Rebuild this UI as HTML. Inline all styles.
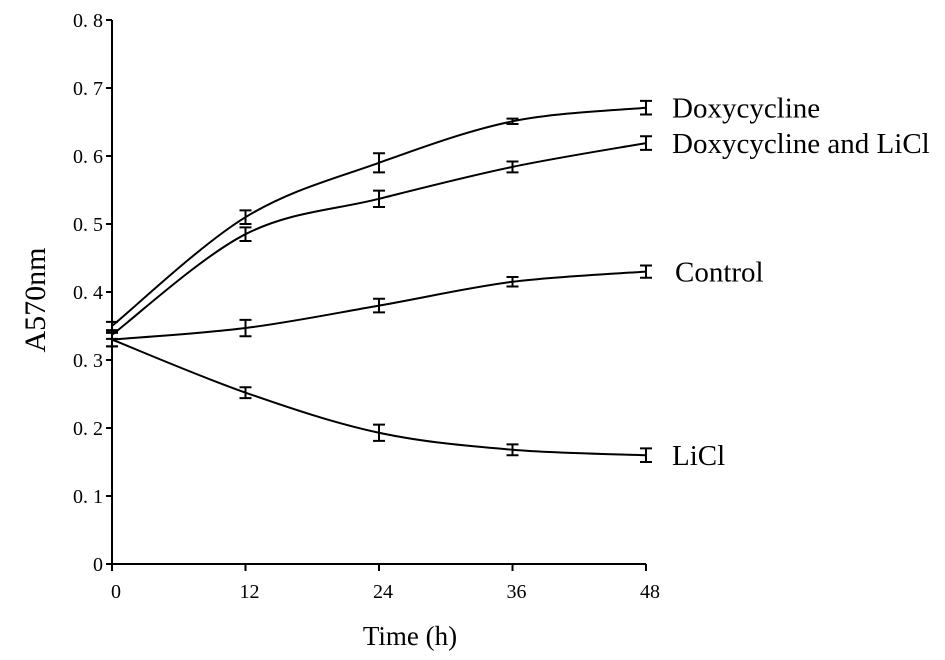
<!DOCTYPE html>
<html><head><meta charset="utf-8"><style>
body{margin:0;background:#fff}
svg{display:block;font-family:"Liberation Serif",serif}
</style></head><body>
<svg id="chart" width="945" height="660" viewBox="0 0 945 660">
<g id="axes"></g>
<g id="series"></g>
<text transform="translate(45,300) rotate(-90)" text-anchor="middle" font-size="30">A570nm</text>
<text x="410" y="645" text-anchor="middle" font-size="27">Time (h)</text>
</svg>
<script>
const times=[0,12,24,36,48];
const yTicks=[0,0.1,0.2,0.3,0.4,0.5,0.6,0.7,0.8];
const seriesNames=["Doxycycline","Doxycycline and LiCl","Control","LiCl"];
const doxy=[0.35,0.51,0.59,0.651,0.671];
const doxyErr=[0.006,0.01,0.014,0.004,0.01];
const doxyLi=[0.337,0.485,0.537,0.584,0.619];
const doxyLiErr=[0.006,0.01,0.012,0.008,0.01];
const control=[0.33,0.347,0.38,0.415,0.43];
const controlErr=[0.01,0.012,0.01,0.007,0.009];
const licl=[0.33,0.252,0.193,0.168,0.16];
const liclErr=[0.01,0.008,0.012,0.008,0.01];
const labelDy=[0,0,0,0];
const NS="http://www.w3.org/2000/svg";
const X0=112,X1=646,Y0=564,Y1=20;
const sx=t=>X0+(t-0)/(48-0)*(X1-X0);
const sy=v=>Y0-(v/0.8)*(Y0-Y1);
function mk(tag,attrs,parent){const e=document.createElementNS(NS,tag);for(const k in attrs)e.setAttribute(k,attrs[k]);parent.appendChild(e);return e;}
const ax=document.getElementById('axes');
let l=mk('line',{x1:X0,y1:Y1,x2:X0,y2:Y0,stroke:'#000','stroke-width':2},ax);


l=mk('line',{x1:X0,y1:Y0,x2:X1,y2:Y0,stroke:'#000','stroke-width':2},ax);


yTicks.forEach(v=>{
 mk('line',{x1:X0-6,y1:sy(v),x2:X0,y2:sy(v),stroke:'#000','stroke-width':2},ax);
 const t=mk('text',{x:X0-9,y:sy(v)+7,'text-anchor':'end','font-size':20},ax);
 t.textContent=v===0?'0':v.toFixed(1).replace('.','. ');
 
 
});
times.forEach(v=>{
 mk('line',{x1:sx(v),y1:Y0,x2:sx(v),y2:Y0+7,stroke:'#000','stroke-width':2},ax);
 const t=mk('text',{x:sx(v)+4,y:Y0+34,'text-anchor':'middle','font-size':20},ax);
 t.textContent=v;
 
 
});
const sg=document.getElementById('series');
const all=[[doxy,doxyErr],[doxyLi,doxyLiErr],[control,controlErr],[licl,liclErr]];
all.forEach((s,i)=>{
 const pts=times.map((t,j)=>[sx(t),sy(s[0][j])]);
 let d=`M${pts[0][0]},${pts[0][1]}`;
 for(let j=0;j<pts.length-1;j++){
  const p0=pts[Math.max(0,j-1)],p1=pts[j],p2=pts[j+1],p3=pts[Math.min(pts.length-1,j+2)];
  const c1=[p1[0]+(p2[0]-p0[0])/6,p1[1]+(p2[1]-p0[1])/6];
  const c2=[p2[0]-(p3[0]-p1[0])/6,p2[1]-(p3[1]-p1[1])/6];
  d+=` C${c1[0]},${c1[1]} ${c2[0]},${c2[1]} ${p2[0]},${p2[1]}`;
 }
 const p=mk('path',{d:d,fill:'none',stroke:'#000','stroke-width':2},sg);
 
 
 times.forEach((t,j)=>{
  const x=sx(t),ya=sy(s[0][j]+s[1][j]),yb=sy(s[0][j]-s[1][j]);
  const g=mk('path',{d:`M${x},${ya}V${yb}M${x-6},${ya}H${x+6}M${x-6},${yb}H${x+6}`,stroke:'#000','stroke-width':2,fill:'none'},sg);
  
  
 });
 const lab=mk('text',{x:sx(48)+(i===2?29:26),y:sy(s[0][4])+10+labelDy[i],'font-size':29},sg);
 lab.textContent=seriesNames[i];
 
 
});
</script>
</body></html>
